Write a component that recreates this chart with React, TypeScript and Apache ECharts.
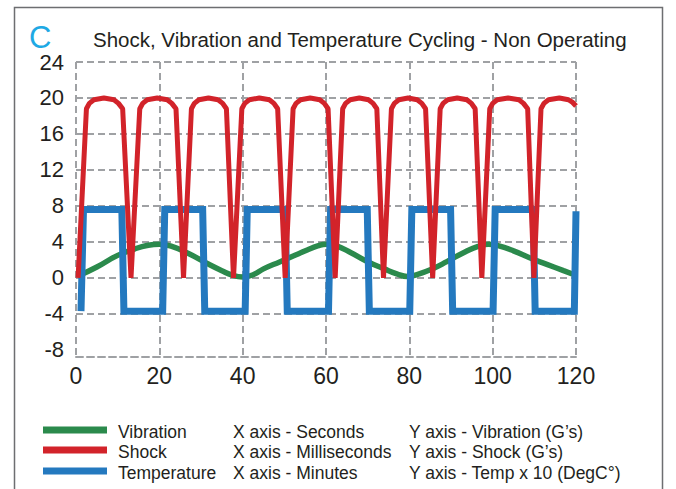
import { useEffect, useRef } from "react";
import * as echarts from "echarts";

const xTickValues = [0, 20, 40, 60, 80, 100, 120];
const yLabelValues = [-8, -4, 0, 4, 8, 12, 16, 20, 24];
const yGridValues = [-4, 0, 4, 8, 12, 16, 20, 24];

const vibration: [number, number][] = [
  [0.5, 0.2], [5, 1.2], [10, 2.5], [14, 3.2], [17, 3.6], [20, 3.75], [23, 3.5], [27, 2.7], [31.5, 1.6],
  [35, 0.8], [37.5, 0.3], [40, 0.1], [42.5, 0.35], [45, 1.0], [49, 1.8], [52, 2.4], [55.5, 3.1], [58, 3.55],
  [60, 3.75], [62.5, 3.55], [66, 2.8], [70, 1.8], [74, 1.0], [77, 0.45], [79.5, 0.15], [82, 0.4],
  [85.5, 1.0], [89, 1.8], [93, 2.8], [96.5, 3.5], [99, 3.75], [101.5, 3.55], [105, 3.0], [109, 2.2],
  [113, 1.5], [117, 0.8], [119.6, 0.35],
];

const shock: [number, number][] = [
  [0.5, 0], [2.5, 18.8], [3.2, 19.4], [4.3, 19.8], [6.7, 20], [9.1, 19.8], [10.2, 19.4], [11.2, 18.8], [13.2, 0],
  [15.3, 18.8], [16, 19.4], [17.1, 19.8], [19.5, 20], [21.9, 19.8], [23, 19.4], [24, 18.8], [25.8, 0],
  [27.7, 18.8], [28.4, 19.4], [29.5, 19.8], [31.8, 20], [34.1, 19.8], [35.2, 19.4], [36.1, 18.8], [37.8, 0],
  [39.8, 18.8], [40.5, 19.4], [41.6, 19.8], [44, 20], [46.4, 19.8], [47.5, 19.4], [48.4, 18.8], [50.2, 0],
  [52.1, 18.8], [52.8, 19.4], [53.9, 19.8], [56.2, 20], [58.5, 19.8], [59.6, 19.4], [60.5, 18.8], [62.2, 0],
  [64, 18.8], [64.7, 19.4], [65.8, 19.8], [68, 20], [70.2, 19.8], [71.3, 19.4], [72.2, 18.8], [73.8, 0],
  [75.7, 18.8], [76.4, 19.4], [77.5, 19.8], [79.7, 20], [81.9, 19.8], [83, 19.4], [83.9, 18.8], [85.6, 0],
  [87.4, 18.8], [88.1, 19.4], [89.2, 19.8], [91.5, 20], [93.8, 19.8], [94.9, 19.4], [95.8, 18.8], [97.4, 0],
  [99.3, 18.8], [100, 19.4], [101.1, 19.8], [103.7, 20], [106.3, 19.8], [107.4, 19.4], [108.4, 18.8], [109.9, 0],
  [111.6, 18.8], [112.3, 19.4], [113.4, 19.8], [116, 20], [118.2, 19.8], [119.2, 19.5], [120, 19.1],
];

const temperature: [number, number][] = [
  [1.2, -3.7], [1.8, 7.6], [11, 7.6], [11.5, -3.7], [20.8, -3.7], [21.3, 7.6], [30.4, 7.6], [30.9, -3.7],
  [40.6, -3.7], [41.1, 7.6], [50.2, 7.6], [50.7, -3.7], [60.6, -3.7], [61.1, 7.6], [69.9, 7.6], [70.4, -3.7],
  [80.1, -3.7], [80.6, 7.6], [89.9, 7.6], [90.4, -3.7], [100.1, -3.7], [100.6, 7.6], [109.7, 7.6], [110.2, -3.7],
  [119.6, -3.7], [120, 7.4],
];

const seriesNames = ["Vibration", "Shock", "Temperature"];
const seriesColors = ["#2b8a4c", "#d2232a", "#2479bf"];
const xAxisNotes = ["X axis - Seconds", "X axis - Milliseconds", "X axis - Minutes"];
const yAxisNotes = ["Y axis - Vibration (G\u2019s)", "Y axis - Shock (G\u2019s)", "Y axis - Temp x 10 (DegC\u00b0)"];

const FONT = "'Liberation Sans', Arial, sans-serif";
const TEXT = "#231f20";
const GRIDC = "#9fa1a4";

export default function App() {
  const ref = useRef<HTMLDivElement>(null);
  useEffect(() => {
    if (!ref.current) return;
    const chart = echarts.init(ref.current, undefined, { renderer: "svg" });
    const gridLine = { color: GRIDC, type: [7, 4] as any, width: 2 };
    const legendGraphics: any[] = [];
    const rowY = [432, 452, 473];
    seriesNames.forEach((n, i) => {
      legendGraphics.push({
        type: "line",
        shape: { x1: 43, y1: rowY[i] - 2, x2: 107, y2: rowY[i] - 2 },
        style: { stroke: seriesColors[i], lineWidth: 7 },
      });
      legendGraphics.push({
        type: "text", x: 118, y: rowY[i],
        style: { text: n, font: `17.5px ${FONT}`, fill: TEXT, verticalAlign: "middle" },
      });
      legendGraphics.push({
        type: "text", x: 233, y: rowY[i],
        style: { text: xAxisNotes[i], font: `17.5px ${FONT}`, fill: TEXT, verticalAlign: "middle" },
      });
      legendGraphics.push({
        type: "text", x: 409, y: rowY[i],
        style: { text: yAxisNotes[i], font: `17.5px ${FONT}`, fill: TEXT, verticalAlign: "middle" },
      });
    });
    chart.setOption({
      animation: false,
      backgroundColor: "#ffffff",
      grid: { left: 76, right: 100, top: 62, bottom: 132 },
      xAxis: {
        type: "value",
        min: 0,
        max: 120,
        interval: 20,
        axisLine: { show: true, onZero: false, lineStyle: gridLine },
        axisTick: { show: false },
        splitLine: { show: true, lineStyle: gridLine },
        axisLabel: {
          margin: 7, fontSize: 23, color: TEXT, fontFamily: FONT,
          customValues: xTickValues,
        },
      },
      yAxis: {
        type: "value",
        min: -8.8,
        max: 24,
        axisLine: { show: false },
        axisTick: { show: false, customValues: yGridValues },
        splitLine: { show: true, lineStyle: gridLine },
        axisLabel: {
          margin: 12, fontSize: 22, lineHeight: 18, color: TEXT, fontFamily: FONT,
          customValues: yLabelValues,
        },
      },
      series: [
        {
          name: seriesNames[0], type: "line", data: vibration, symbol: "none",
          smooth: 0.5, lineStyle: { color: seriesColors[0], width: 5.5 }, z: 2,
        },
        {
          name: seriesNames[2], type: "line", data: temperature, symbol: "none",
          lineStyle: { color: seriesColors[2], width: 7, join: "miter" }, z: 3,
        },
        {
          name: seriesNames[1], type: "line", data: shock, symbol: "none",
          lineStyle: { color: seriesColors[1], width: 5, join: "bevel" }, z: 4,
        },
      ],
      graphic: [
        {
          type: "rect",
          shape: { x: 14.5, y: 7.5, width: 648, height: 500 },
          style: { fill: "none", stroke: "#6d6e71", lineWidth: 1.5 },
          silent: true,
        },
        {
          type: "text", x: 29, y: 37,
          style: { text: "C", font: `31px ${FONT}`, fill: "#1ea9e4", verticalAlign: "middle" },
        },
        {
          type: "text", x: 93, y: 39,
          style: {
            text: "Shock, Vibration and Temperature Cycling - Non Operating",
            font: `20.5px ${FONT}`, fill: TEXT, verticalAlign: "middle",
          },
        },
        ...legendGraphics,
      ],
    });
    return () => chart.dispose();
  }, []);
  return (
    <div
      ref={ref}
      style={{ position: "fixed", left: 0, top: 0, width: 676, height: 489, background: "#fff" }}
    />
  );
}
